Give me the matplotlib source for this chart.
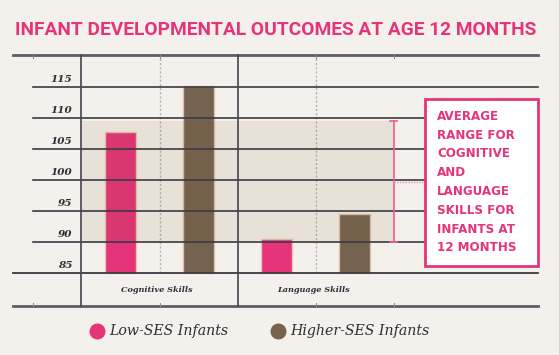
import matplotlib.pyplot as plt
from matplotlib.patches import Rectangle

categories = ["Cognitive Skills", "Language Skills"]
groups = ["Low-SES Infants", "Higher-SES Infants"]
low_ses = [107.7, 90.6]
higher_ses = [115.1, 94.5]
tick_values = [85, 90, 95, 100, 105, 110, 115]
avg_range = (90, 109.5)
box_lines = ["AVERAGE", "RANGE FOR", "COGNITIVE", "AND", "LANGUAGE",
             "SKILLS FOR", "INFANTS AT", "12 MONTHS"]

BG = "#f4f1ec"
PINK = "#e5347a"
BROWN = "#75624f"
GRID = "#3a3a42"
TEXT = "#2e2e36"

W, H = 559, 355


def fx(px):
    return px / W


def fy(py):
    return 1 - py / H


fig = plt.figure(figsize=(W / 100, H / 100), dpi=100, facecolor=BG)

ax = fig.add_axes([fx(13), fy(306), (538 - 13) / W, (306 - 55) / H])
ax.set_facecolor(BG)
ax.axis("off")
xmin, xmax = -0.939, 2.426
ymin, ymax = 79.73, 120.16
ax.set_xlim(xmin, xmax)
ax.set_ylim(ymin, ymax)

x = list(range(len(categories)))
off = 0.25
bw = 0.2
ax.bar([i - off for i in x], [v - 85 for v in low_ses], bottom=85, width=bw,
       color=PINK, edgecolor="#f0c4b4", linewidth=1, zorder=2)
ax.bar([i + off for i in x], [v - 85 for v in higher_ses], bottom=85, width=bw,
       color=BROWN, edgecolor="#d9c2b0", linewidth=1, zorder=2)

# shaded average band
ax.fill_between([-0.5, 1.5], avg_range[0], avg_range[1], color="#7a5a30",
                alpha=0.1, linewidth=0, zorder=3)

# horizontal grid
for v in tick_values[1:]:
    ax.plot([-0.81, xmax], [v, v], color=GRID, lw=1.2, zorder=4, clip_on=False)
ax.plot([xmin, xmax], [85, 85], color=GRID, lw=1.3, zorder=4, clip_on=False)
for v in (ymin, ymax):
    ax.plot([xmin, xmax], [v, v], color="#5c5c64", lw=2, zorder=4, clip_on=False)

# vertical separators
for xv in (-0.5, 0.5):
    ax.plot([xv, xv], [ymin, ymax], color="#45454d", lw=1.2, zorder=4, clip_on=False)
for xv in (0, 1):
    ax.plot([xv, xv], [85, ymax], color="#b5b1ac", lw=1, ls=(0, (1.5, 1.5)), zorder=1)
for xv in (-0.81, 0, 1, 1.5):
    ax.plot([xv, xv], [ymin, ymin + 0.5], color="#8a8a90", lw=0.8, zorder=4, clip_on=False)
    ax.plot([xv, xv], [ymax - 0.5, ymax], color="#8a8a90", lw=0.8, zorder=4, clip_on=False)

# tick labels
for v in tick_values:
    ax.text(-0.56, v + 1.25, str(v), ha="right", va="center", fontsize=7.5,
            family="DejaVu Serif", style="italic", weight="bold", color=TEXT)

for i, c in enumerate(categories):
    ax.text(i - 0.015, 82.3, c, ha="center", va="center", fontsize=5.9,
            family="DejaVu Serif", style="italic", weight="bold", color=TEXT)

# range bracket
ax.plot([1.5, 1.5], list(avg_range), color="#ec5d91", lw=1.2, zorder=5)
for v in avg_range:
    ax.plot([1.48, 1.52], [v, v], color="#ec5d91", lw=1.2, zorder=5)
mid = (avg_range[0] + avg_range[1]) / 2
ax.plot([1.5, 1.7], [mid, mid], color="#f08aa8", lw=1, ls=(0, (1, 1)), zorder=5)

# callout box
fig.add_artist(Rectangle((fx(425), fy(265.5)), (538 - 425) / W, (265.5 - 98.5) / H,
                         transform=fig.transFigure, facecolor="white",
                         edgecolor=PINK, linewidth=2, zorder=6))
line_y = [116.7, 135.7, 153.5, 172.7, 191.7, 210.7, 229.2, 247.9]
for t, yy in zip(box_lines, line_y):
    fig.text(fx(437), fy(yy), t, ha="left", va="center", fontsize=8.6,
             family="DejaVu Sans", weight="bold", color=PINK, zorder=7)

# title
fig.text(fx(15), fy(30), "INFANT DEVELOPMENTAL OUTCOMES AT AGE 12 MONTHS",
         ha="left", va="center", fontsize=13.8, family="Roboto", weight="bold",
         color=PINK)

# legend
for col, lab, cx in zip([PINK, BROWN], groups, [97, 278]):
    fig.add_artist(plt.Line2D([fx(cx)], [fy(331)], marker="o", markersize=10.5,
                              color=col, transform=fig.transFigure))
    fig.text(fx(cx + 12), fy(331), lab, ha="left", va="center", fontsize=10.2,
             family="DejaVu Serif", style="italic", color=TEXT)

fig.savefig("out.png", dpi=100, facecolor=BG)
